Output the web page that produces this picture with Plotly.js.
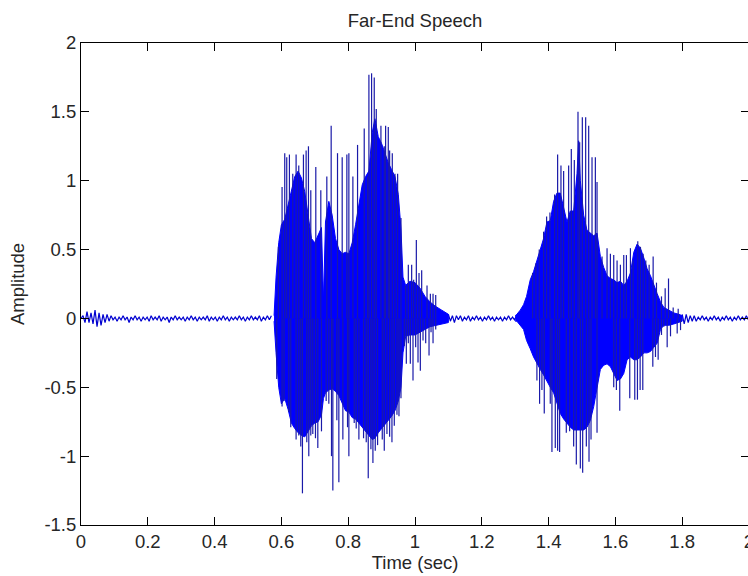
<!DOCTYPE html>
<html><head><meta charset="utf-8">
<script src="https://cdn.plot.ly/plotly-3.0.1.min.js"></script>
<style>html,body{margin:0;padding:0;overflow:hidden;background:#fff}#chart{width:752px;height:576px}</style>
</head><body><div id="chart"></div>
<script>
// Axis ticks
const xTickVals = [0,0.2,0.4,0.6,0.8,1,1.2,1.4,1.6,1.8,2];
const xTickText = ['0','0.2','0.4','0.6','0.8','1','1.2','1.4','1.6','1.8','2'];
const yTickVals = [-1.5,-1,-0.5,0,0.5,1,1.5,2];
const yTickText = ['-1.5','-1','-0.5','0','0.5','1','1.5','2'];

// Quiet (noise) segments: start time, sample step (s), values
const quietStep = 0.006;
const quiet1Start = 0;
const quiet1 = [0,0.02,-0.03,0.05,-0.03,0.04,-0.04,0.06,-0.06,0.04,-0.05,0.03,-0.03,0.03,-0.02,0.02,-0.01,0.01,-0.02,0.01,-0.01,0.02,-0.01,0.01,-0.03,0.01,-0.01,0.02,-0.01,0.01,-0.02,0.01,-0.01,0.01,-0.02,0.02,-0.01,0.01,-0.01,0.02,-0.02,0.01,-0.01,0.01,-0.03,0.01,-0.01,0.02,-0.01,0.01,-0.01,0.01,-0.02,0.01,-0.01,0.02,-0.01,0.01,-0.02,0.01,-0.01,0.01,-0.01,0.02,-0.02,0.01,-0.01,0.01,-0.02,0.01,-0.01,0.02,-0.01,0.01,-0.02,0.01,-0.01,0.01,-0.01,0.02,-0.01,0.01,-0.02,0.01,-0.01,0.02,-0.01,0.01,-0.01,0.02,-0.02,0.01,-0.01,0.02,-0.01,0.02];
const quiet2Start = 1.10;
const quiet2 = [0.03,-0.02,0.02,-0.03,0.02,-0.01,0.02,-0.02,0.01,-0.01,0.02,-0.02,0.01,-0.01,0.02,-0.01,0.01,-0.02,0.01,-0.01,0.02,-0.01,0.01,-0.02,0.01,-0.01,0.01,-0.02,0.01,-0.01,0.02,-0.01,0.01,-0.01,0.02];
const quiet3Start = 1.80;
const quiet3 = [0.03,-0.04,0.03,-0.03,0.02,-0.02,0.02,-0.02,0.01,-0.01,0.02,-0.01,0.01,-0.02,0.01,-0.01,0.02,-0.01,0.01,-0.02,0.01,-0.01,0.02,-0.01,0.01,-0.02,0.01,-0.01,0.02,-0.01,0.01,-0.01,0.02,-0.01];

// Burst 1 dense core envelope
const core1T  = [0.578,0.584,0.592,0.600,0.610,0.620,0.630,0.640,0.650,0.660,0.670,0.680,0.690,0.700,0.710,0.720,0.726,0.732,0.742,0.752,0.762,0.772,0.782,0.792,0.802,0.812,0.822,0.832,0.842,0.852,0.862,0.872,0.880,0.890,0.900,0.910,0.920,0.930,0.940,0.950,0.958,0.964,0.972,0.985,1.000,1.015,1.030,1.045,1.060,1.080,1.100];
const core1Hi = [0.02,0.30,0.55,0.68,0.72,0.82,0.92,1.03,1.07,1.02,0.92,0.75,0.58,0.55,0.60,0.66,0.13,0.70,0.85,0.75,0.58,0.50,0.47,0.48,0.47,0.55,0.68,0.82,0.97,1.03,1.07,1.35,1.45,1.32,1.27,1.20,1.13,1.08,1.03,0.90,0.65,0.30,0.24,0.27,0.26,0.22,0.16,0.12,0.09,0.06,0.03];
const core1Lo = [-0.02,-0.25,-0.50,-0.62,-0.58,-0.66,-0.76,-0.80,-0.83,-0.85,-0.86,-0.82,-0.78,-0.76,-0.75,-0.70,-0.58,-0.54,-0.52,-0.51,-0.53,-0.56,-0.62,-0.67,-0.68,-0.72,-0.73,-0.76,-0.79,-0.82,-0.85,-0.88,-0.87,-0.83,-0.80,-0.77,-0.74,-0.71,-0.67,-0.60,-0.50,-0.25,-0.13,-0.12,-0.12,-0.10,-0.08,-0.06,-0.05,-0.04,-0.03];

// Burst 2 dense core envelope
const core2T  = [1.300,1.305,1.315,1.325,1.334,1.345,1.355,1.365,1.375,1.385,1.395,1.405,1.415,1.425,1.435,1.445,1.455,1.465,1.475,1.485,1.490,1.495,1.505,1.515,1.525,1.535,1.545,1.555,1.565,1.575,1.585,1.595,1.605,1.615,1.625,1.635,1.645,1.655,1.665,1.675,1.685,1.695,1.705,1.715,1.725,1.735,1.745,1.760,1.775,1.790,1.800];
const core2Hi = [0.02,0.03,0.06,0.10,0.16,0.28,0.34,0.42,0.50,0.58,0.70,0.71,0.85,0.91,0.91,0.80,0.70,0.78,0.78,1.05,1.29,1.00,0.75,0.64,0.62,0.60,0.62,0.45,0.37,0.31,0.29,0.28,0.26,0.27,0.24,0.27,0.33,0.48,0.54,0.51,0.44,0.36,0.31,0.24,0.18,0.12,0.08,0.06,0.04,0.03,0.02];
const core2Lo = [-0.02,-0.02,-0.05,-0.08,-0.16,-0.22,-0.28,-0.33,-0.37,-0.41,-0.45,-0.50,-0.54,-0.62,-0.69,-0.73,-0.76,-0.79,-0.81,-0.81,-0.81,-0.81,-0.81,-0.79,-0.74,-0.64,-0.50,-0.37,-0.34,-0.33,-0.35,-0.40,-0.45,-0.44,-0.40,-0.30,-0.28,-0.30,-0.30,-0.28,-0.25,-0.25,-0.24,-0.21,-0.18,-0.08,-0.05,-0.05,-0.04,-0.03,-0.02];

// Pitch-pulse spikes (time, peak amplitude)
const spikeT = [0.591,0.602,0.610,0.616,0.624,0.634,0.644,0.652,0.666,0.674,0.681,0.688,0.703,0.718,0.736,0.749,0.768,0.782,0.796,0.802,0.814,0.828,0.848,0.858,0.862,0.870,0.878,0.884,0.898,0.908,0.912,0.920,0.924,0.932,0.940,0.948,0.958,0.972,0.980,0.990,0.996,1.004,1.012,1.020,1.036,1.046,1.054,1.062,
0.586,0.602,0.608,0.622,0.628,0.644,0.652,0.658,0.663,0.676,0.682,0.688,0.694,0.702,0.709,0.720,0.734,0.742,0.750,0.754,0.766,0.772,0.784,0.798,0.802,0.818,0.824,0.832,0.846,0.854,0.860,0.868,0.874,0.881,0.888,0.902,0.908,0.916,0.924,0.931,0.938,0.946,0.952,0.958,0.968,0.974,0.980,0.986,0.994,1.002,1.009,1.016,1.024,1.032,1.042,1.048,1.054,1.062,
1.352,1.362,1.372,1.385,1.394,1.404,1.418,1.427,1.437,1.445,1.460,1.468,1.477,1.488,1.493,1.501,1.511,1.520,1.530,1.540,1.545,1.560,1.575,1.585,1.595,1.605,1.615,1.625,1.633,1.645,1.653,1.667,1.675,1.683,1.691,1.701,1.713,1.723,1.738,1.749,1.759,1.773,1.788,
1.365,1.373,1.380,1.387,1.405,1.410,1.420,1.427,1.433,1.453,1.463,1.475,1.483,1.495,1.502,1.513,1.521,1.527,1.545,1.595,1.603,1.613,1.643,1.658,1.666,1.674,1.682,1.712,1.720,1.728,1.738,1.745,1.755,1.765,1.785,1.795];
const spikeV = [0.52,0.955,1.20,1.17,1.19,1.05,1.19,1.11,1.19,1.22,1.25,0.93,1.10,0.93,1.03,1.40,1.20,1.17,1.19,1.20,1.03,1.26,1.38,1.03,1.77,1.78,1.75,1.52,1.40,1.25,1.40,1.39,1.22,1.20,1.05,1.05,0.73,0.24,0.39,0.39,0.28,0.57,0.33,0.35,0.24,0.18,0.18,0.17,
-0.44,-0.64,-0.60,-0.68,-0.79,-0.88,-0.85,-0.93,-1.27,-0.90,-1.00,-0.85,-0.84,-0.87,-0.94,-0.82,-0.60,-0.62,-1.00,-1.25,-0.74,-1.19,-0.88,-0.79,-1.00,-0.76,-0.80,-0.88,-0.87,-0.90,-1.16,-0.95,-1.05,-0.96,-0.92,-0.88,-0.96,-0.84,-0.86,-0.90,-0.78,-0.70,-0.71,-0.58,-0.20,-0.33,-0.18,-0.33,-0.45,-0.21,-0.32,-0.38,-0.16,-0.18,-0.27,-0.10,-0.18,-0.08,
0.33,0.40,0.50,0.63,0.74,0.77,0.90,1.19,1.11,1.07,1.11,1.23,1.15,1.50,1.28,1.46,1.46,1.40,1.17,1.17,0.99,0.45,0.51,0.47,0.46,0.42,0.39,0.46,0.46,0.51,0.42,0.56,0.52,0.47,0.42,0.39,0.45,0.26,0.16,0.22,0.29,0.08,0.07,
-0.45,-0.62,-0.52,-0.69,-0.62,-0.97,-0.94,-0.96,-0.97,-0.83,-0.82,-0.93,-1.06,-1.09,-1.12,-0.93,-1.04,-0.88,-0.83,-0.50,-0.52,-0.67,-0.58,-0.59,-0.59,-0.52,-0.52,-0.35,-0.28,-0.30,-0.12,-0.06,-0.21,-0.13,-0.11,-0.085];

const BLUE = '#0000ff';
function quietTrace(start, vals){
  return {type:'scatter', mode:'lines', x: vals.map((v,i)=>start + i*quietStep), y: vals,
    line:{color:'#0000d0', width:1.2}, hoverinfo:'skip', showlegend:false};
}
function coreTrace(t, hi, lo){
  return {type:'scatter', mode:'lines', x: t.concat(t.slice().reverse()), y: hi.concat(lo.slice().reverse()),
    fill:'toself', fillcolor:BLUE, line:{color:BLUE, width:1}, hoverinfo:'skip', showlegend:false};
}
const sx = [], sy = [];
spikeT.forEach((t,i)=>{ sx.push(t,t,null); sy.push(0, spikeV[i], null); });

const data = [
  quietTrace(quiet1Start, quiet1),
  quietTrace(quiet2Start, quiet2),
  quietTrace(quiet3Start, quiet3),
  coreTrace(core1T, core1Hi, core1Lo),
  coreTrace(core2T, core2Hi, core2Lo),
  {type:'scatter', mode:'lines', x:sx, y:sy, connectgaps:false, line:{color:'#1a1aa8', width:1.2}, hoverinfo:'skip', showlegend:false}
];

const FONT = {family:'"Liberation Sans", Arial, sans-serif', size:18.5, color:'#262626'};
const axisCommon = {showgrid:false, zeroline:false, ticks:'inside', ticklen:8, tickcolor:'#000', tickwidth:1,
  showline:true, linecolor:'#000', linewidth:1, mirror:'ticks', tickfont:FONT, automargin:false, fixedrange:true};

const layout = {
  width:752, height:576,
  margin:{l:81, r:3, t:43, b:51, pad:0},
  paper_bgcolor:'#fff', plot_bgcolor:'#fff',
  font:FONT,
  title:{text:'Far-End Speech', font:FONT, x:0.5, xref:'paper', y:1-21/576, yref:'container', yanchor:'middle'},
  xaxis:Object.assign({}, axisCommon, {range:[0,2], tickmode:'array', tickvals:xTickVals, ticktext:xTickText,
    ticklabeloverflow:'allow', title:{text:'Time (sec)', font:FONT, standoff:4}}),
  yaxis:Object.assign({}, axisCommon, {range:[-1.5,2], tickmode:'array', tickvals:yTickVals, ticktext:yTickText,
    title:{text:'Amplitude', font:FONT, standoff:14}}),
  showlegend:false
};
Plotly.newPlot('chart', data, layout, {displayModeBar:false, staticPlot:true});
</script></body></html>
